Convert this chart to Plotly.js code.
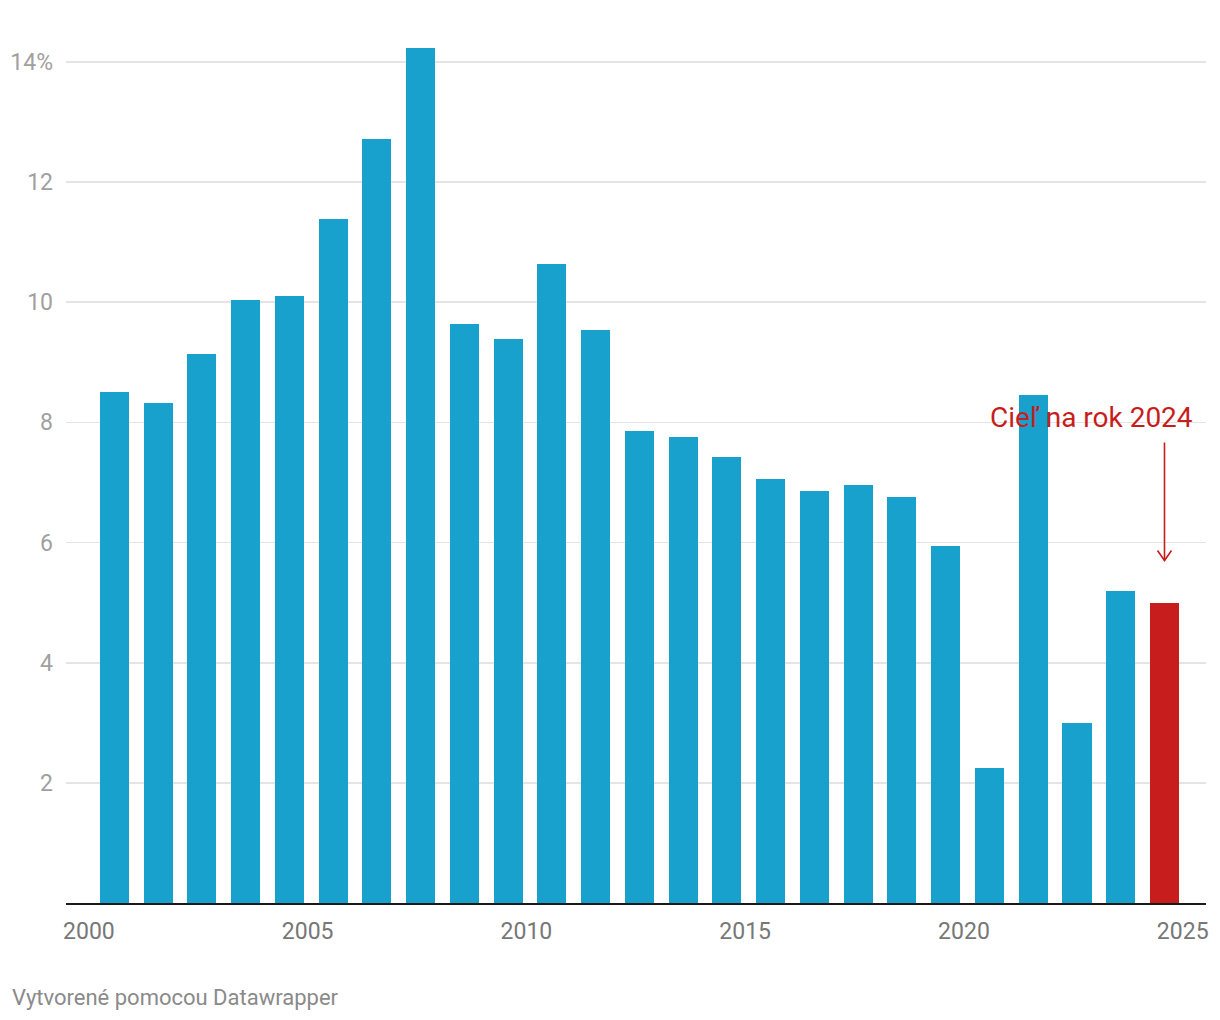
<!DOCTYPE html>
<html>
<head>
<meta charset="utf-8">
<script src="https://cdn.plot.ly/plotly-3.0.1.min.js"></script>
<style>
  html, body { margin: 0; padding: 0; background: #fff; }
  #chart { width: 1220px; height: 1020px; }
</style>
</head>
<body>
<div id="chart"></div>
<script>
// ---- data ----
var years = [2000, 2001, 2002, 2003, 2004, 2005, 2006, 2007, 2008, 2009,
             2010, 2011, 2012, 2013, 2014, 2015, 2016, 2017, 2018, 2019,
             2020, 2021, 2022, 2023];
var values = [8.50, 8.33, 9.13, 10.04, 10.11, 11.39, 12.72, 14.23, 9.64, 9.39,
              10.64, 9.54, 7.86, 7.76, 7.43, 7.05, 6.85, 6.95, 6.75, 5.95,
              2.24, 8.45, 2.99, 5.20];
var targetYear = [2024];
var targetValue = [5.0];
var targetLabel = "Cieľ na rok 2024";
var yTickVals = [2, 4, 6, 8, 10, 12, 14];
var yTickText = ["2", "4", "6", "8", "10", "12", "14%"];
var xTickVals = [2000, 2005, 2010, 2015, 2020, 2025];
var xTickText = ["2000", "2005", "2010", "2015", "2020", "2025"];
var footerText = "Vytvorené pomocou Datawrapper";

// ---- styling ----
var BLUE = "#18a1cd";
var RED = "#c71e1d";
var BAR_W = 0.663;
var BAR_OFF = 0.252;
var center = BAR_OFF + BAR_W / 2;

var ax = targetYear[0] + center;
var tipY = targetValue[0] + 0.70;
var topY = targetValue[0] + 2.665;
var hx = 0.16, hy = 0.166;

var traces = [
  {
    type: "bar", x: years, y: values,
    width: BAR_W, offset: BAR_OFF,
    marker: { color: BLUE, line: { width: 0 } },
    hoverinfo: "x+y", showlegend: false
  },
  {
    type: "bar", x: targetYear, y: targetValue,
    width: BAR_W, offset: BAR_OFF,
    marker: { color: RED, line: { width: 0 } },
    hoverinfo: "x+y", showlegend: false
  },
  {
    type: "scatter", mode: "lines",
    x: [ax, ax, null, ax - hx, ax, ax + hx],
    y: [topY, tipY, null, tipY + hy, tipY, tipY + hy],
    line: { color: RED, width: 1.6 },
    hoverinfo: "skip", showlegend: false
  }
];

var layout = {
  width: 1220, height: 1020,
  margin: { l: 66, r: 14, t: 40, b: 117, pad: 0 },
  paper_bgcolor: "#ffffff", plot_bgcolor: "#ffffff",
  font: { family: "Roboto, sans-serif", size: 23, color: "#777777" },
  bargap: 0,
  xaxis: {
    range: [1999.476, 2025.532],
    tickvals: xTickVals, ticktext: xTickText,
    showgrid: false, zeroline: false,
    showline: true, linecolor: "#1a1a1a", linewidth: 1.6,
    ticks: "", ticklabelstandoff: 7,
    tickfont: { family: "Roboto, sans-serif", size: 23, color: "#777777" },
    fixedrange: true
  },
  yaxis: {
    range: [0, 14.364],
    tickvals: yTickVals, ticktext: yTickText,
    showgrid: true, gridcolor: "#e4e4e4", gridwidth: 1.7,
    zeroline: false, showline: false, ticks: "",
    ticklabelstandoff: 12,
    tickfont: { family: "Roboto, sans-serif", size: 23, color: "#a0a0a0" },
    fixedrange: true
  },
  annotations: [
    {
      x: 2025.28, y: 8.076, xref: "x", yref: "y",
      text: targetLabel, showarrow: false,
      xanchor: "right", yanchor: "middle",
      font: { family: "Roboto, sans-serif", size: 28, color: RED }
    },
    {
      x: 0, y: 0, xref: "paper", yref: "paper",
      xshift: -56, yshift: -94,
      text: footerText, showarrow: false,
      xanchor: "left", yanchor: "middle",
      font: { family: "Roboto, sans-serif", size: 22, color: "#8a8a8a" }
    }
  ]
};

Plotly.newPlot("chart", traces, layout, { displayModeBar: false, staticPlot: true });
</script>
</body>
</html>
